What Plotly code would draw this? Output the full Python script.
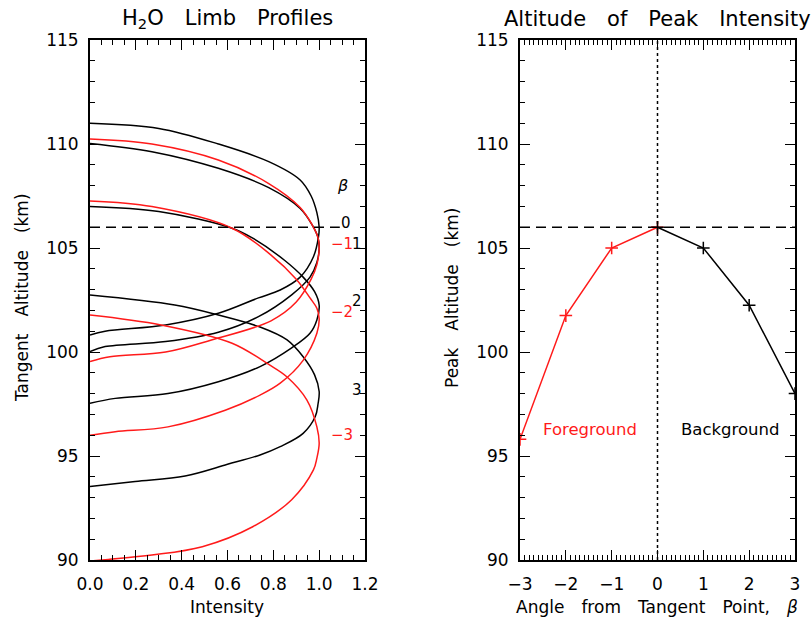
import plotly.graph_objects as go

BLACK = "#000000"
RED = "#ff1a1a"
FONT = "DejaVu Sans"
SP = "\u2003"  # wide word spacing as in the reference typography

# ---------------- Right panel data: peak altitude vs beta ----------------
BETA_FG = [-3, -2, -1, 0]
PEAK_FG = [95.8, 101.75, 105.0, 106.0]
BETA_BG = [0, 1, 2, 3]
PEAK_BG = [106.0, 105.0, 102.25, 98.0]
TANGENT_PEAK = 106.0

# ---------------- Left panel data: limb profiles (intensity, altitude) ----------------
INT_P0 = [0.00, 0.30, 0.56, 0.78, 0.917, 0.965, 0.99, 1.00, 0.997, 0.975, 0.917, 0.83, 0.735, 0.56, 0.33, 0.066, 0.00]
ALT_P0 = [111.0, 110.75, 110.0, 109.15, 108.27, 107.5, 106.7, 106.0, 105.54, 104.58, 103.6, 102.98, 102.6, 101.86, 101.3, 101.0, 100.82]

INT_P1 = [0.00, 0.27, 0.56, 0.78, 0.917, 0.97, 0.995, 1.00, 0.99, 0.96, 0.88, 0.735, 0.56, 0.33, 0.066, 0.00]
ALT_P1 = [110.03, 109.63, 108.83, 107.9, 106.9, 106.1, 105.5, 105.0, 104.3, 103.6, 102.75, 101.7, 100.95, 100.5, 100.26, 100.02]

INT_P2 = [0.00, 0.30, 0.62, 0.71, 0.85, 0.93, 0.98, 1.00, 0.99, 0.96, 0.88, 0.742, 0.56, 0.34, 0.11, 0.00]
ALT_P2 = [106.99, 106.75, 105.95, 105.47, 104.4, 103.6, 102.9, 102.25, 101.54, 100.9, 100.2, 99.3, 98.57, 98.0, 97.77, 97.53]

INT_P3 = [0.00, 0.37, 0.56, 0.742, 0.86, 0.93, 0.98, 1.00, 0.995, 0.983, 0.93, 0.83, 0.742, 0.60, 0.415, 0.197, 0.00]
ALT_P3 = [102.74, 102.26, 101.78, 101.2, 100.58, 99.77, 98.9, 98.1, 97.5, 96.9, 96.09, 95.45, 95.05, 94.6, 94.04, 93.77, 93.53]

INT_M1 = [0.00, 0.27, 0.56, 0.78, 0.917, 0.97, 0.995, 1.00, 0.99, 0.965, 0.90, 0.79, 0.53, 0.33, 0.087, 0.00]
ALT_M1 = [110.24, 110.0, 109.23, 108.1, 106.95, 106.1, 105.5, 105.0, 104.2, 103.5, 102.4, 101.5, 100.58, 100.0, 99.77, 99.54]

INT_M2 = [0.00, 0.27, 0.62, 0.79, 0.90, 0.96, 0.99, 1.00, 0.99, 0.93, 0.83, 0.742, 0.59, 0.34, 0.11, 0.00]
ALT_M2 = [107.26, 106.99, 105.95, 104.66, 103.5, 102.6, 102.1, 101.6, 100.9, 99.6, 98.5, 97.93, 97.2, 96.4, 96.17, 96.0]

INT_M3 = [0.00, 0.31, 0.62, 0.78, 0.86, 0.946, 0.99, 1.00, 0.99, 0.975, 0.88, 0.71, 0.49, 0.27, 0.08, 0.00]
ALT_M3 = [101.78, 101.3, 100.42, 99.4, 98.8, 97.7, 96.4, 95.6, 94.9, 94.33, 92.9, 91.6, 90.64, 90.24, 90.03, 89.95]

PROFILES = [
    (0, INT_P0, ALT_P0, BLACK),
    (1, INT_P1, ALT_P1, BLACK),
    (2, INT_P2, ALT_P2, BLACK),
    (3, INT_P3, ALT_P3, BLACK),
    (-1, INT_M1, ALT_M1, RED),
    (-2, INT_M2, ALT_M2, RED),
    (-3, INT_M3, ALT_M3, RED),
]

LABEL_BETA = [0, 1, 2, 3, -1, -2, -3]
LABEL_TEXT = ["0", "1", "2", "3", "\u22121", "\u22122", "\u22123"]

fig = go.Figure()

for beta, xs, ys, col in PROFILES:
    fig.add_trace(go.Scatter(x=xs, y=ys, mode="lines", xaxis="x", yaxis="y",
                             line=dict(color=col, width=1.5, shape="spline", smoothing=1.0),
                             showlegend=False, hoverinfo="skip"))

# dashed reference line (left)
fig.add_trace(go.Scatter(x=[0, 1.09], y=[TANGENT_PEAK, TANGENT_PEAK], mode="lines",
                         xaxis="x", yaxis="y",
                         line=dict(color=BLACK, width=1.5, dash="10px,6px"),
                         showlegend=False, hoverinfo="skip"))

# right panel reference lines
fig.add_trace(go.Scatter(x=[-3, 3], y=[TANGENT_PEAK, TANGENT_PEAK], mode="lines",
                         xaxis="x2", yaxis="y2",
                         line=dict(color=BLACK, width=1.5, dash="10px,6px"),
                         showlegend=False, hoverinfo="skip"))
fig.add_trace(go.Scatter(x=[0, 0], y=[90, 115], mode="lines",
                         xaxis="x2", yaxis="y2",
                         line=dict(color=BLACK, width=1.5, dash="dot"),
                         showlegend=False, hoverinfo="skip"))

fig.add_trace(go.Scatter(x=BETA_FG, y=PEAK_FG, mode="lines+markers", xaxis="x2", yaxis="y2",
                         line=dict(color=RED, width=1.5),
                         marker=dict(symbol="cross-thin", size=9, line=dict(width=1.5, color=RED)),
                         showlegend=False, hoverinfo="skip"))
fig.add_trace(go.Scatter(x=BETA_BG, y=PEAK_BG, mode="lines+markers", xaxis="x2", yaxis="y2",
                         line=dict(color=BLACK, width=1.5),
                         marker=dict(symbol="cross-thin", size=9, line=dict(width=1.5, color=BLACK)),
                         showlegend=False, hoverinfo="skip"))

peak_of = dict(zip(BETA_FG + BETA_BG, PEAK_FG + PEAK_BG))

annotations = []
annotations.append(dict(x=1.07, y=108.0, xref="x", yref="y", text="<i>β</i>", showarrow=False,
                        xanchor="left", yanchor="middle", font=dict(family=FONT, size=16, color=BLACK)))
for b, t in zip(LABEL_BETA, LABEL_TEXT):
    col = RED if b < 0 else BLACK
    if b < 0:
        xpos = 1.045
    elif b == 0:
        xpos = 1.085
    else:
        xpos = 1.135
    annotations.append(dict(x=xpos, y=peak_of[b], xref="x", yref="y", text=t, showarrow=False,
                            xanchor="left", yanchor="middle", yshift=4,
                            font=dict(family=FONT, size=15, color=col)))

annotations.append(dict(x=-1.47, y=96.25, xref="x2", yref="y2", text="Foreground", showarrow=False,
                        xanchor="center", yanchor="middle",
                        font=dict(family=FONT, size=16.5, color=RED)))
annotations.append(dict(x=1.58, y=96.25, xref="x2", yref="y2", text="Background", showarrow=False,
                        xanchor="center", yanchor="middle",
                        font=dict(family=FONT, size=16.5, color=BLACK)))

W, H = 812, 620
def px(x):
    return x / W
def py(y):
    return 1 - y / H

def paper_text(x, y, text, size, angle=0):
    return dict(x=px(x), y=py(y), xref="paper", yref="paper", text=text, textangle=angle,
                xanchor="center", yanchor="middle", showarrow=False,
                font=dict(family=FONT, size=size, color=BLACK))

annotations += [
    paper_text(227, 19, "H<sub>2</sub>O" + SP + "Limb" + SP + "Profiles", 21),
    paper_text(657, 19, SP.join(["Altitude", "of", "Peak", "Intensity"]), 21),
    paper_text(227, 607, "Intensity", 17),
    paper_text(657, 607, SP.join(["Angle", "from", "Tangent", "Point,", "<i>β</i>"]), 17),
    paper_text(22, 298, SP.join(["Tangent", "Altitude", "(km)"]), 17, -90),
    paper_text(452, 298, SP.join(["Peak", "Altitude", "(km)"]), 17, -90),
]

axis_common = dict(showline=True, linecolor=BLACK, linewidth=1.8, mirror="allticks",
                   ticks="inside", tickcolor=BLACK, tickwidth=1.3, ticklen=10,
                   showgrid=False, zeroline=False, automargin=False,
                   tickfont=dict(family=FONT, size=17, color=BLACK))

ydom = [py(560), py(40)]
fig.update_layout(
    template="none",
    width=W, height=H,
    margin=dict(l=0, r=0, t=0, b=0, pad=0, autoexpand=False),
    paper_bgcolor="white", plot_bgcolor="white",
    showlegend=False,
    xaxis=dict(domain=[px(90), px(365)], range=[0, 1.2], dtick=0.2, tick0=0, tickformat=".1f",
               anchor="y", ticklabelstandoff=8,
               minor=dict(dtick=0.05, ticklen=5, ticks="inside", tickcolor=BLACK, tickwidth=1.2),
               **axis_common),
    yaxis=dict(domain=ydom, range=[90, 115], dtick=5, tick0=90, anchor="x", ticklabelstandoff=6,
               minor=dict(dtick=1, ticklen=5, ticks="inside", tickcolor=BLACK, tickwidth=1.2),
               **axis_common),
    xaxis2=dict(domain=[px(520), px(795)], range=[-3, 3], dtick=1, tick0=0, anchor="y2",
                ticklabelstandoff=8,
                minor=dict(dtick=0.1, ticklen=5, ticks="inside", tickcolor=BLACK, tickwidth=1.2),
                **axis_common),
    yaxis2=dict(domain=ydom, range=[90, 115], dtick=5, tick0=90, anchor="x2", ticklabelstandoff=6,
                minor=dict(dtick=1, ticklen=5, ticks="inside", tickcolor=BLACK, tickwidth=1.2),
                **axis_common),
    annotations=annotations,
)

fig.write_html("out.html")
